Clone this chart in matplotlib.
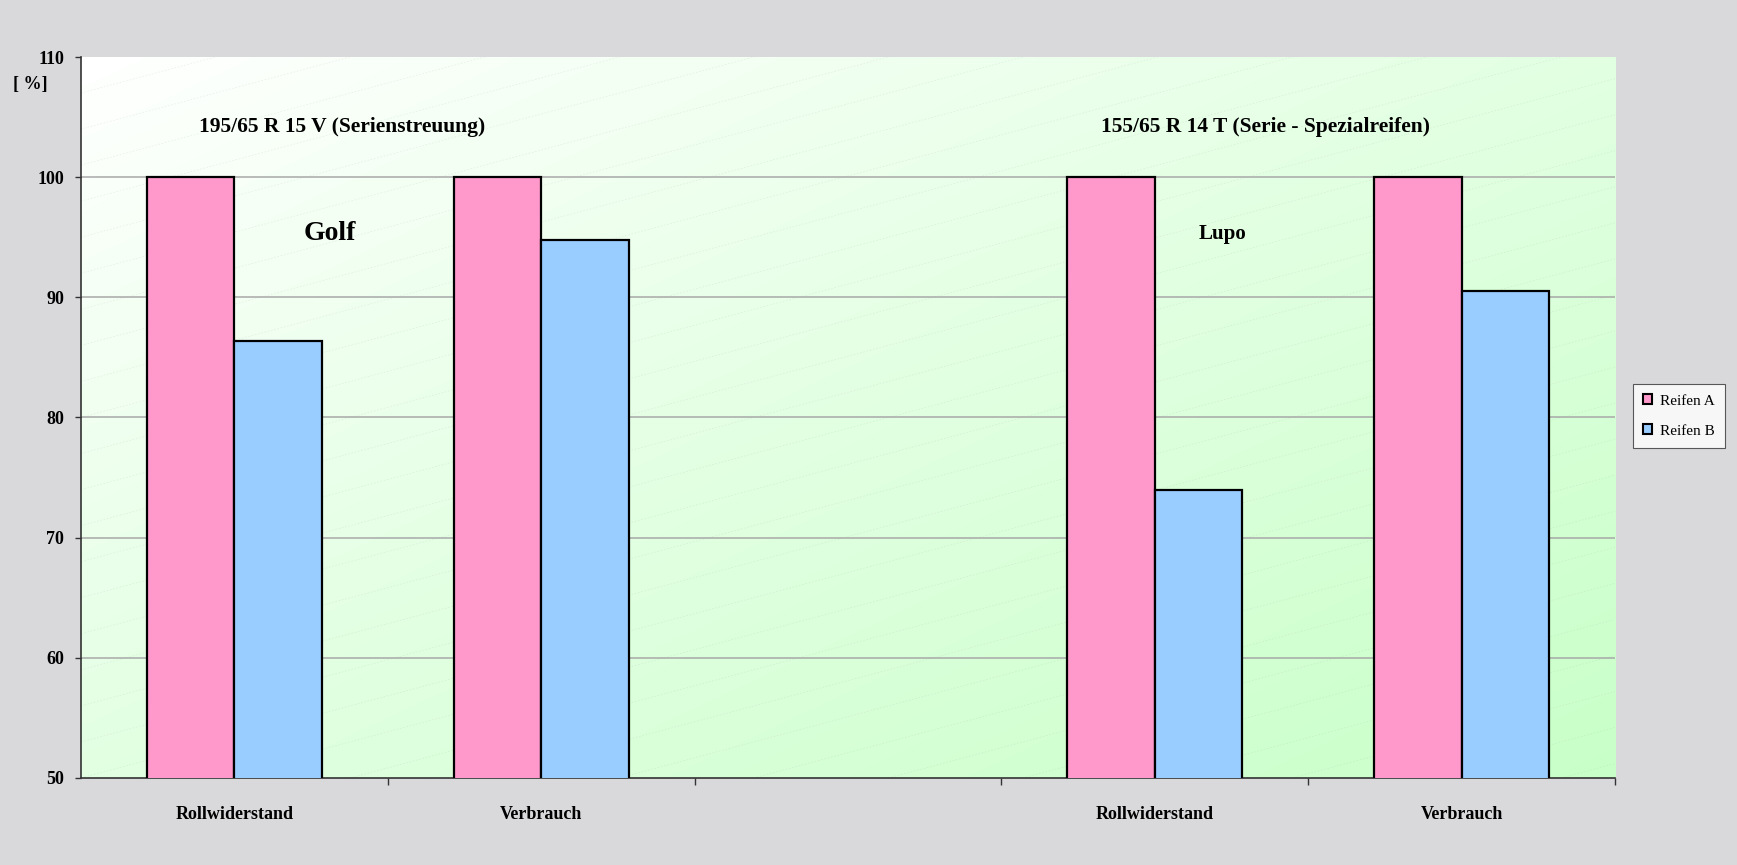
"""Rollwiderstand / Verbrauch comparison, Reifen A vs. Reifen B (Golf and Lupo)."""

import matplotlib

matplotlib.use("Agg")
import matplotlib.pyplot as plt  # noqa: E402
import numpy as np  # noqa: E402
from matplotlib.colors import LinearSegmentedColormap  # noqa: E402
from matplotlib.lines import Line2D  # noqa: E402
from matplotlib.patches import Patch  # noqa: E402

# slot 3 is the empty gap between the two vehicles
categories = ["Rollwiderstand", "Verbrauch", "", "Rollwiderstand", "Verbrauch"]
reifen_a = [100.0, 100.0, np.nan, 100.0, 100.0]
reifen_b = [86.4, 94.8, np.nan, 74.0, 90.5]
series_labels = ["Reifen A", "Reifen B"]
y_ticks = [50, 60, 70, 80, 90, 100, 110]

SERIF = "Liberation Serif"
PINK = "#ff99cc"
BLUE = "#99ccff"


def plot_area_background(ax):
    # white (top left) -> light green (bottom right)
    gx, gy = np.meshgrid(np.linspace(0, 1, 300), np.linspace(1, 0, 200))
    t = (gx + (1 - gy)) / 2.0
    cmap = LinearSegmentedColormap.from_list("bg", ["#ffffff", "#e2ffe2", "#c8ffc8"])
    ax.imshow(t, cmap=cmap, extent=(0, 1, 0, 1), transform=ax.transAxes,
              aspect="auto", zorder=0, interpolation="bilinear")
    # faint dashed hatching rising to the right
    for off in np.arange(-0.6, 1.0, 0.05):
        ax.add_line(Line2D([0, 1], [off, off + 0.57], transform=ax.transAxes,
                           color="#9a9a9a", lw=0.6, ls=(0, (2, 2)), alpha=0.14,
                           zorder=0.5))


fig = plt.figure(figsize=(17.37, 8.65), dpi=100)
fig.patch.set_facecolor("#d9d9dc")
ax = fig.add_axes([0.0466, 0.1006, 0.8832, 0.8335])
plot_area_background(ax)

x = np.arange(len(categories)) + 0.5
w = 0.285
ax.bar(x - w / 2, reifen_a, width=w, bottom=0, color=PINK, edgecolor="black",
       linewidth=1.6, zorder=3)
ax.bar(x + w / 2, reifen_b, width=w, bottom=0, color=BLUE, edgecolor="black",
       linewidth=1.6, zorder=3)

ax.set_xlim(0, len(categories))
ax.set_ylim(50, 110)

# y axis
ax.set_yticks(y_ticks)
ax.set_yticklabels([str(v) for v in y_ticks], fontfamily=SERIF,
                   fontweight="bold", fontsize=13)
ax.tick_params(axis="y", direction="out", length=4, width=1, pad=8, color="#333333")
for v in y_ticks[1:-1]:
    ax.axhline(v, color="#a8a8a8", lw=1.1, zorder=1)

# x axis: ticks on the slot borders, labels in the slot centres
ax.set_xticks(np.arange(1, len(categories) + 1))
ax.set_xticklabels([])
ax.set_xticks(x, minor=True)
ax.set_xticklabels(categories, minor=True, fontfamily=SERIF, fontweight="bold",
                   fontsize=13)
ax.tick_params(axis="x", which="major", direction="out", length=5, width=1,
               color="#333333")
ax.tick_params(axis="x", which="minor", length=0, pad=20)

for side in ("top", "right"):
    ax.spines[side].set_visible(False)
ax.spines["left"].set_color("#333333")
ax.spines["bottom"].set_color("#333333")
ax.spines["left"].set_linewidth(1.2)
ax.spines["bottom"].set_linewidth(1.2)

# annotations
fig.text(30 / 1737, 1 - 85 / 865, "[ %]", fontfamily=SERIF, fontweight="bold",
         fontsize=13, ha="center", va="center")
ax.text(0.852, 104.2, "195/65 R 15 V (Serienstreuung)", fontfamily=SERIF,
        fontweight="bold", fontsize=15.5, ha="center", va="center")
ax.text(3.86, 104.2, "155/65 R 14 T (Serie - Spezialreifen)", fontfamily=SERIF,
        fontweight="bold", fontsize=15.5, ha="center", va="center")
ax.text(0.81, 95.3, "Golf", fontfamily=SERIF, fontweight="bold", fontsize=20,
        ha="center", va="center")
ax.text(3.72, 95.3, "Lupo", fontfamily=SERIF, fontweight="bold", fontsize=15,
        ha="center", va="center")

handles = [Patch(facecolor=PINK, edgecolor="black", lw=1.5),
           Patch(facecolor=BLUE, edgecolor="black", lw=1.5)]
leg = fig.legend(handles, series_labels, loc="center",
                 bbox_to_anchor=(1679 / 1737, 1 - 416 / 865),
                 prop={"family": SERIF, "size": 11}, frameon=True, fancybox=False,
                 handlelength=0.6, handleheight=0.6, handletextpad=0.5,
                 borderpad=0.7, labelspacing=1.1, borderaxespad=0)
leg.get_frame().set_edgecolor("#333333")
leg.get_frame().set_facecolor("white")
leg.get_frame().set_linewidth(0.8)

fig.savefig("out.png", dpi=100, facecolor=fig.get_facecolor())
plt.close(fig)
